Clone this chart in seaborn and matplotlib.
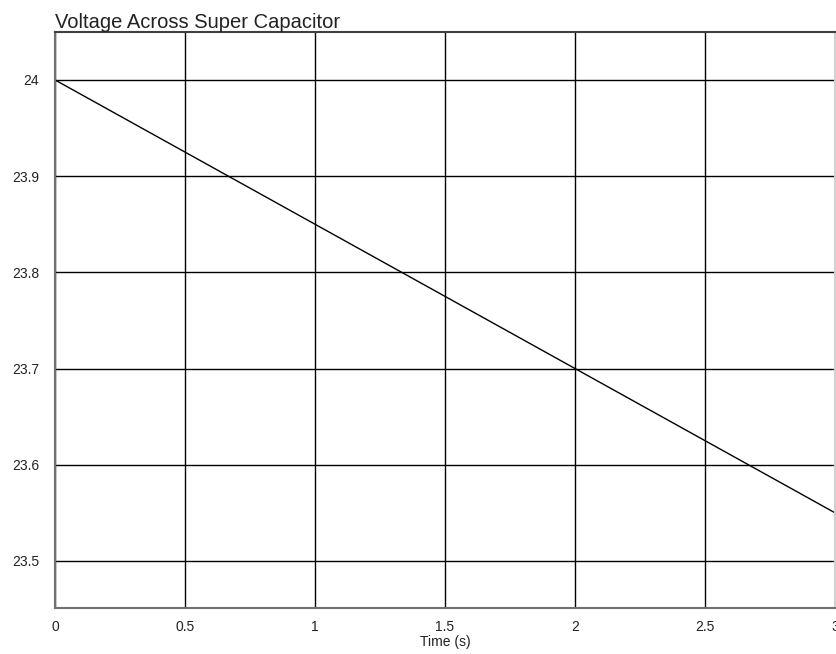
import matplotlib
matplotlib.use("Agg")
import matplotlib.pyplot as plt
import seaborn as sns
import pandas as pd

time_s = [0, 0.5, 1.0, 1.5, 2.0, 2.5, 3.0]
voltage = [24.0, 23.925, 23.85, 23.775, 23.70, 23.625, 23.55]
x_ticks = [0, 0.5, 1, 1.5, 2, 2.5, 3]
x_labels = ["0", "0.5", "1", "1.5", "2", "2.5", "3"]
y_ticks = [23.5, 23.6, 23.7, 23.8, 23.9, 24.0]
y_labels = ["23.5", "23.6", "23.7", "23.8", "23.9", "24"]

sns.set_theme(style="white")
plt.rcParams['font.family'] = ['Liberation Sans', 'DejaVu Sans']

df = pd.DataFrame({"Time (s)": time_s, "Voltage": voltage})

fig = plt.figure(figsize=(8.36, 6.54), dpi=100)
ax = fig.add_axes([0.0658, 0.0703, 0.933, 0.881])
sns.lineplot(data=df, x="Time (s)", y="Voltage", ax=ax, color="black", linewidth=1.0)

ax.set_xlim(0, 3)
ax.set_ylim(23.451, 24.05)
ax.set_xticks(x_ticks)
ax.set_xticklabels(x_labels)
ax.set_yticks(y_ticks)
ax.set_yticklabels(y_labels)
ax.grid(True, color="black", linewidth=1.0)
ax.set_axisbelow(True)
ax.tick_params(axis="both", length=0, labelsize=10, colors="#222222")
ax.tick_params(axis="x", pad=8.5)
ax.tick_params(axis="y", pad=11.5)
for name, sp in ax.spines.items():
    sp.set_visible(True)
    sp.set_color("#707070")
    sp.set_linewidth(1.5)
ax.spines["right"].set_color("#d0d0d0")
ax.spines["top"].set_color("#404040")
ax.set_xlabel("Time (s)", fontsize=10, labelpad=0.5, color="#222222")
ax.set_ylabel("")
ax.set_title("Voltage Across Super Capacitor", loc="left", fontsize=14.5, pad=3, color="#222222")

fig.savefig("out.png", dpi=100)
